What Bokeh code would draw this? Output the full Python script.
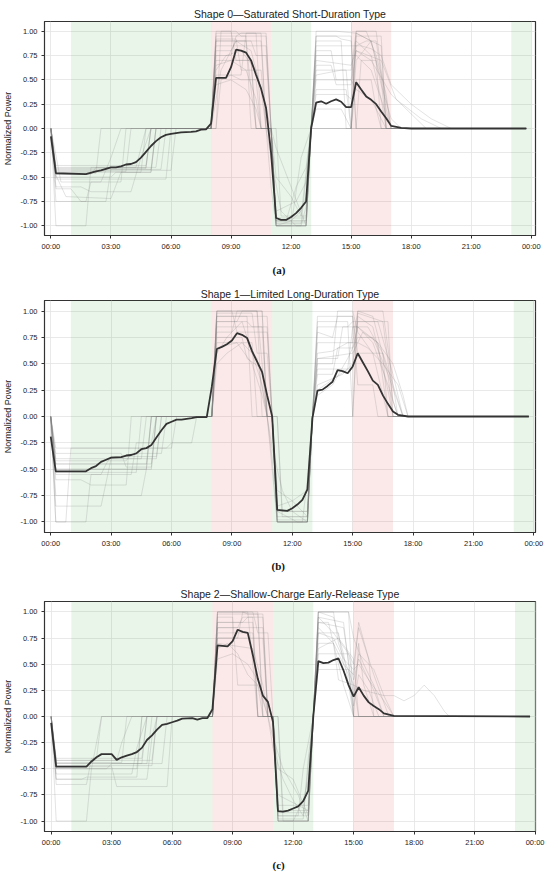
from bokeh.plotting import figure
from bokeh.layouts import column
from bokeh.models import FixedTicker, Title, Range1d, BoxAnnotation
from bokeh.embed import file_html
from bokeh.resources import INLINE

TITLES = ["Shape 0\u2014Saturated Short-Duration Type",
          "Shape 1\u2014Limited Long-Duration Type",
          "Shape 2\u2014Shallow-Charge Early-Release Type"]
CAPTIONS = ["(a)", "(b)", "(c)"]
X_TICKS = [0, 3, 6, 9, 12, 15, 18, 21, 24]
X_TICK_LABELS = ["00:00", "03:00", "06:00", "09:00", "12:00", "15:00", "18:00", "21:00", "00:00"]
Y_TICKS = [-1.0, -0.75, -0.5, -0.25, 0.0, 0.25, 0.5, 0.75, 1.0]
Y_TICK_LABELS = ["-1.00", "-0.75", "-0.50", "-0.25", "0.00", "0.25", "0.50", "0.75", "1.00"]
GREEN_SPANS = [(1, 8), (11, 13), (23, 24)]
RED_SPANS = [(8, 11), (15, 17)]

# ---- mean (cluster centre) curves: hours, normalized power ----
MEAN_A_T = [0, 0.25, 1.75, 2.25, 2.5, 3.0, 3.25, 3.5, 3.75, 4.0,
            4.25, 4.5, 4.75, 5.0, 5.25, 5.5, 5.75, 6.0, 6.5, 7.0,
            7.25, 7.5, 7.75, 8.0, 8.25, 8.75, 9.0, 9.25, 9.5, 9.75,
            10.0, 10.25, 10.5, 10.75, 11.0, 11.25, 11.5, 11.75, 12.0, 12.25,
            12.5, 12.75, 13.0, 13.25, 13.5, 13.75, 14.0, 14.25, 14.5, 14.75,
            15.0, 15.25, 15.5, 15.75, 16.0, 16.25, 16.5, 16.75, 17.0, 17.5,
            18.0, 23.75]
MEAN_A_V = [-0.08, -0.46, -0.47, -0.44, -0.43, -0.40, -0.40, -0.39, -0.37, -0.365,
            -0.345, -0.30, -0.24, -0.18, -0.13, -0.09, -0.065, -0.055, -0.04, -0.035,
            -0.03, -0.012, -0.008, 0.05, 0.52, 0.52, 0.63, 0.81, 0.80, 0.78,
            0.70, 0.55, 0.41, 0.21, -0.25, -0.92, -0.94, -0.94, -0.91, -0.87,
            -0.815, -0.75, 0.0, 0.265, 0.28, 0.255, 0.28, 0.30, 0.275, 0.22,
            0.22, 0.475, 0.40, 0.33, 0.295, 0.25, 0.175, 0.105, 0.027, 0.007,
            0.0, 0.0]

MEAN_B_T = [0, 0.25, 1.75, 2.0, 2.25, 2.5, 2.75, 3.0, 3.5, 3.75,
            4.0, 4.25, 4.5, 4.75, 5.0, 5.25, 5.5, 5.75, 6.0, 6.25,
            6.5, 7.0, 7.25, 7.75, 8.0, 8.25, 8.5, 8.75, 9.0, 9.25,
            9.5, 9.75, 10.0, 10.25, 10.5, 10.75, 11.0, 11.25, 11.5, 11.75,
            12.0, 12.25, 12.5, 12.75, 13.0, 13.25, 13.5, 13.75, 14.0, 14.25,
            14.5, 14.75, 15.0, 15.25, 15.5, 15.75, 16.0, 16.25, 16.5, 16.75,
            17.0, 17.25, 17.75, 23.75]
MEAN_B_V = [-0.19, -0.52, -0.52, -0.49, -0.47, -0.43, -0.41, -0.39, -0.385, -0.37,
            -0.365, -0.35, -0.31, -0.30, -0.27, -0.20, -0.13, -0.07, -0.05, -0.03,
            -0.03, -0.015, -0.006, -0.006, 0.28, 0.64, 0.66, 0.685, 0.72, 0.79,
            0.775, 0.745, 0.62, 0.52, 0.42, 0.20, 0.0, -0.885, -0.89, -0.895,
            -0.87, -0.835, -0.79, -0.69, -0.015, 0.245, 0.255, 0.29, 0.33, 0.44,
            0.43, 0.41, 0.475, 0.60, 0.515, 0.43, 0.34, 0.30, 0.20, 0.12,
            0.047, 0.016, 0.0, 0.0]

MEAN_C_T = [0, 0.25, 1.75, 2.0, 2.25, 2.5, 3.0, 3.25, 3.5, 3.75,
            4.0, 4.25, 4.5, 4.75, 5.0, 5.25, 5.5, 5.75, 6.0, 6.25,
            6.5, 7.0, 7.25, 7.5, 7.75, 8.0, 8.25, 8.75, 9.0, 9.25,
            9.5, 9.75, 10.0, 10.25, 10.5, 10.75, 11.0, 11.25, 11.5, 11.75,
            12.0, 12.25, 12.5, 12.75, 13.0, 13.25, 13.5, 13.75, 14.0, 14.25,
            14.5, 14.75, 15.0, 15.25, 15.5, 15.75, 16.0, 16.25, 16.5, 17.0,
            23.75]
MEAN_C_V = [-0.06, -0.48, -0.48, -0.43, -0.39, -0.36, -0.36, -0.415, -0.39, -0.375,
            -0.36, -0.34, -0.30, -0.225, -0.18, -0.125, -0.08, -0.07, -0.055, -0.04,
            -0.02, -0.015, -0.03, -0.015, -0.015, 0.07, 0.68, 0.67, 0.72, 0.83,
            0.81, 0.80, 0.59, 0.36, 0.20, 0.14, -0.05, -0.905, -0.91, -0.90,
            -0.88, -0.86, -0.81, -0.71, 0.0, 0.53, 0.51, 0.515, 0.54, 0.555,
            0.44, 0.30, 0.19, 0.28, 0.20, 0.135, 0.10, 0.07, 0.03, 0.006,
            0.0]

# ---- individual member curves (estimated), [hour, value] vertices ----
GRAY_A = [
    [[0,0],[0.25,-0.42],[5.0,-0.42],[5.25,0],[8.0,0],[8.25,0.9],[10.5,0.9],[10.75,0],[11.0,0],[11.25,-1.0],[12.75,-1.0],[13.0,0],[13.25,0.5],[15.0,0.5],[15.25,0.95],[16.5,0.95],[16.75,0],[23.75,0]],
    [[0,0],[0.25,-0.45],[4.5,-0.45],[4.75,0],[8.25,0],[8.5,1.0],[9.25,1.0],[9.5,0.95],[10.75,0.95],[11.0,0],[11.25,-0.98],[12.5,-0.98],[12.75,-0.5],[13.0,0],[13.25,0.9],[14.5,0.9],[14.75,0],[15.25,0],[15.5,0.7],[16.25,0.7],[16.5,0],[23.75,0]],
    [[0,0],[0.25,-0.75],[1.75,-0.75],[2.0,-0.55],[3.5,-0.55],[3.75,0],[8.0,0],[8.25,0.75],[9.0,0.75],[9.25,0.95],[9.75,0.95],[10.0,0],[11.25,0],[11.5,-0.9],[12.75,-0.9],[13.0,0],[15.0,0],[15.25,1.0],[16.25,1.0],[16.5,0.6],[17.0,0],[23.75,0]],
    [[0,0],[0.25,-1.0],[1.75,-1.0],[2.0,-0.4],[5.25,-0.4],[5.5,0],[8.0,0],[8.25,0.55],[9.5,0.55],[9.75,0.98],[10.5,0.98],[10.75,0],[11.0,-0.6],[11.25,-1.0],[12.0,-1.0],[12.5,-0.3],[13.0,0],[13.25,0.8],[14.0,0.8],[14.25,0.5],[15.0,0.5],[15.25,0.4],[16.0,0.3],[16.75,0],[23.75,0]],
    [[0,0],[0.25,-0.5],[3.0,-0.5],[3.25,-0.45],[5.0,-0.45],[5.25,0],[8.0,0],[8.25,0.85],[10.75,0.85],[11.0,0],[11.25,-0.95],[12.75,-0.95],[13.0,0],[13.25,0.95],[14.25,0.95],[14.5,0.92],[15.0,0.9],[15.25,0],[23.75,0]],
    [[0,0],[0.25,-0.6],[1.5,-0.6],[2.0,-0.65],[4.0,-0.65],[4.5,-0.3],[5.0,0],[8.0,0],[8.25,0.3],[8.5,0.6],[9.25,0.9],[10.0,0.8],[10.5,0.4],[10.75,0],[11.0,-0.3],[11.5,-0.85],[12.25,-1.0],[12.75,-1.0],[13.0,0],[13.25,0.2],[14.5,0.2],[15.0,0],[15.25,0.85],[15.75,0.9],[16.25,0.9],[16.75,0.2],[17.0,0],[23.75,0]],
    [[0,0],[0.25,-0.43],[6.0,-0.43],[6.25,0],[8.0,0],[8.25,1.0],[9.0,1.0],[9.25,0.7],[10.0,0.7],[10.25,0],[11.0,0],[11.25,-1.0],[12.75,-1.0],[13.0,0],[13.25,0.75],[15.25,0.75],[16.0,0.6],[16.5,0.3],[17.0,0],[23.75,0]],
    [[0,0],[0.5,-0.55],[2.5,-0.55],[3.0,-0.3],[3.5,0],[8.0,0],[8.25,0.65],[9.0,0.7],[9.75,0.6],[10.25,0.3],[10.5,0],[11.0,0],[11.25,-0.5],[12.0,-0.7],[12.5,-0.9],[13.0,0],[13.25,0.85],[15.5,0.85],[16.0,0.82],[16.5,0.75],[17.0,0.45],[18.0,0.25],[19.0,0.1],[20.0,0],[23.75,0]],
    [[0,0],[0.25,-0.47],[2.0,-0.47],[2.25,-0.4],[4.75,-0.4],[5.0,0],[8.0,0],[8.25,0.9],[9.75,0.9],[10.0,0.4],[10.25,0],[11.0,0],[11.25,-0.95],[11.75,-0.95],[12.25,-0.6],[12.75,-0.4],[13.0,0],[15.0,0],[15.25,0.98],[16.0,0.9],[16.5,0.5],[16.75,0],[23.75,0]],
    [[0,0],[0.25,-0.4],[4.25,-0.4],[4.5,-0.2],[4.75,0],[8.0,0],[8.25,0.8],[9.0,0.8],[9.25,0.9],[10.0,0.9],[10.25,0.75],[10.75,0.75],[11.0,0],[11.25,-1.0],[12.5,-1.0],[12.75,-0.8],[13.0,0],[13.25,0.6],[14.75,0.6],[15.0,0],[15.25,0.5],[16.0,0.5],[16.25,0.2],[16.5,0],[23.75,0]],
    [[0,0],[0.25,-0.48],[0.75,-0.7],[3.0,-0.72],[3.5,-0.45],[5.0,-0.45],[5.25,0],[8.25,0],[8.5,0.5],[9.0,0.55],[9.5,0.5],[10.25,0.5],[10.5,0],[11.0,0],[11.25,-0.2],[12.0,-0.6],[12.75,-1.0],[13.0,-0.05],[13.25,1.0],[14.25,1.0],[15.25,0.98],[16.0,0.9],[16.5,0.45],[17.0,0.1],[17.5,0],[23.75,0]],
    [[0,0],[0.25,-0.52],[5.75,-0.52],[6.0,0],[8.0,0],[8.25,0.95],[9.25,0.95],[9.5,0.98],[10.25,0.98],[10.5,0],[11.0,0],[11.25,-0.97],[12.75,-0.97],[13.0,0],[13.25,0.4],[14.75,0.4],[15.0,0],[15.25,0.7],[16.0,0.9],[16.5,0.85],[16.75,0],[23.75,0]],
    [[0,0],[0.25,-0.44],[3.75,-0.44],[4.0,0],[8.0,0],[8.25,0.7],[10.0,0.7],[10.25,0],[11.0,0],[11.25,-0.85],[12.25,-0.75],[12.75,-0.55],[13.0,0],[13.25,0.7],[15.0,0.65],[15.25,0.8],[16.5,0.7],[17.25,0.3],[18.5,0.1],[19.5,0],[23.75,0]],
    [[0,0],[0.25,-0.38],[4.75,-0.38],[5.0,0],[8.0,0],[8.25,0.6],[8.75,0.75],[9.5,0.8],[10.25,0.6],[10.75,0.2],[11.0,0],[11.25,-0.95],[12.75,-0.95],[13.0,0],[13.25,0.35],[14.75,0.35],[15.0,0.3],[15.25,0.9],[16.0,0.75],[16.5,0.3],[16.75,0],[23.75,0]],
    [[0,0],[0.25,-0.46],[2.25,-0.46],[2.5,0],[8.0,0],[8.25,0.98],[10.75,0.98],[11.0,0],[11.25,-1.0],[12.75,-1.0],[13.0,0],[13.25,0.95],[15.0,0.95],[15.25,0],[23.75,0]],
    [[0,0],[0.25,-0.62],[1.0,-0.62],[1.5,-0.75],[2.75,-0.75],[3.0,-0.42],[5.5,-0.42],[5.75,0],[8.0,0],[8.25,0.45],[9.0,0.5],[9.75,0.4],[10.25,0.2],[10.5,0],[11.0,0],[11.25,-1.0],[12.0,-0.95],[12.5,-0.85],[12.75,-0.7],[13.0,0],[13.25,0.55],[14.5,0.6],[15.0,0.6],[15.25,1.0],[15.75,1.0],[16.25,0.75],[16.75,0.35],[17.0,0],[23.75,0]],
    [[0,0],[0.25,-0.41],[4.75,-0.41],[5.0,0],[8.0,0],[8.25,0.92],[9.25,0.92],[9.5,0.6],[10.5,0.6],[10.75,0],[11.0,0],[11.25,-0.92],[12.75,-0.92],[13.0,0],[13.25,0.65],[14.0,0.65],[14.25,0.45],[15.0,0.45],[15.25,0.8],[16.0,0.7],[17.0,0.35],[18.0,0.15],[18.75,0],[23.75,0]],
]

GRAY_B = [
    [[0,0],[0.25,-0.5],[4.75,-0.5],[5.0,0],[8.0,0],[8.25,1.0],[10.5,1.0],[10.75,0],[11.0,0],[11.25,-1.0],[12.75,-1.0],[13.0,0],[13.25,0.7],[15.0,0.7],[15.25,1.0],[16.5,1.0],[17.0,0.3],[17.25,0],[23.75,0]],
    [[0,0],[0.25,-0.4],[5.25,-0.4],[5.5,0],[8.0,0],[8.25,0.9],[9.25,0.9],[9.5,1.0],[10.25,1.0],[10.5,0.5],[10.75,0],[11.0,-0.5],[11.25,-1.0],[12.5,-1.0],[12.75,-0.6],[13.0,0],[13.25,0.5],[14.0,0.5],[14.25,1.0],[15.0,1.0],[15.25,0.8],[16.0,0.6],[16.5,0.2],[16.75,0],[23.75,0]],
    [[0,0],[0.25,-1.0],[1.75,-1.0],[2.0,-0.55],[4.0,-0.55],[4.25,-0.25],[5.0,-0.25],[5.25,0],[8.0,0],[8.25,0.7],[10.0,0.7],[10.25,0],[11.0,0],[11.25,-0.95],[12.75,-0.95],[13.0,0],[13.25,0.3],[14.5,0.4],[15.0,0.5],[15.25,0.9],[16.25,0.9],[17.0,0.4],[17.5,0],[23.75,0]],
    [[0,0],[0.25,-0.3],[6.0,-0.3],[6.25,0],[8.0,0],[8.25,1.0],[9.0,1.0],[9.25,0.8],[10.75,0.8],[11.0,0],[11.25,-0.9],[12.25,-1.0],[12.75,-1.0],[13.0,0],[13.25,0.9],[14.75,0.9],[15.0,0],[15.25,0.95],[16.0,0.85],[16.75,0.25],[17.0,0],[23.75,0]],
    [[0,0],[0.25,-0.55],[2.5,-0.55],[2.75,-0.45],[4.75,-0.45],[5.0,0],[8.0,0],[8.25,0.6],[8.75,0.75],[9.5,0.9],[10.0,0.6],[10.5,0.3],[10.75,0],[11.0,-0.3],[11.5,-0.7],[12.0,-0.9],[12.75,-1.0],[13.0,0],[13.25,0.6],[14.0,0.62],[14.75,0.7],[15.25,0.7],[15.75,0.65],[16.5,0.5],[17.25,0.3],[17.75,0],[23.75,0]],
    [[0,0],[0.25,-0.85],[2.5,-0.85],[3.0,-0.4],[4.5,-0.4],[4.75,0],[8.0,0],[8.25,0.95],[9.75,0.95],[10.0,0],[11.0,0],[11.25,-1.0],[12.75,-1.0],[13.0,0],[15.0,0],[15.25,1.0],[16.0,0.95],[16.75,0.4],[17.0,0],[23.75,0]],
    [[0,0],[0.25,-0.42],[3.75,-0.42],[4.0,-0.35],[5.5,-0.35],[5.75,0],[8.0,0],[8.25,0.85],[10.5,0.85],[10.75,0],[11.0,0],[11.25,-0.85],[12.0,-0.8],[12.75,-0.7],[13.0,0],[13.25,0.8],[14.0,0.75],[14.25,0.95],[15.0,0.95],[15.25,0.6],[16.5,0.6],[16.75,0],[23.75,0]],
    [[0,0],[0.25,-0.6],[1.5,-0.6],[2.0,-0.65],[3.75,-0.65],[4.0,0],[8.0,0],[8.25,0.98],[10.0,0.98],[10.25,0.6],[10.75,0.6],[11.0,0],[11.25,-1.0],[12.75,-1.0],[13.0,0],[13.25,0.25],[14.75,0.45],[15.0,0.85],[15.75,0.85],[16.5,0.6],[17.25,0.15],[17.5,0],[23.75,0]],
    [[0,0],[0.25,-0.5],[5.0,-0.5],[5.25,0],[8.0,0],[8.25,0.8],[9.0,0.8],[9.25,1.0],[10.5,1.0],[10.75,0],[11.0,-0.4],[11.25,-1.0],[12.75,-1.0],[13.0,0],[13.25,0.4],[14.0,0.4],[14.25,0.65],[15.0,0.65],[15.25,0.85],[16.25,0.7],[16.75,0],[23.75,0]],
    [[0,0],[0.25,-0.75],[4.5,-0.75],[4.75,-0.5],[5.0,0],[8.0,0],[8.25,0.75],[9.5,0.75],[9.75,0.55],[10.5,0.45],[10.75,0],[11.25,0],[11.5,-0.9],[12.75,-0.9],[13.0,0],[13.25,0.95],[15.0,0.95],[15.25,0.3],[16.0,0.3],[16.25,0],[23.75,0]],
    [[0,0],[0.25,-0.45],[2.75,-0.45],[3.0,-0.38],[5.25,-0.38],[5.5,0],[8.0,0],[8.25,0.65],[9.25,0.7],[10.0,0.5],[10.5,0.2],[10.75,0],[11.0,0],[11.25,-0.7],[12.0,-0.8],[12.75,-0.95],[13.0,0],[13.25,0.55],[15.0,0.6],[15.5,0.8],[16.25,0.7],[17.0,0.5],[17.5,0.2],[17.75,0],[23.75,0]],
    [[0,0],[0.25,-0.45],[5.0,-0.45],[5.25,0],[8.0,0],[8.25,0.95],[10.75,0.95],[11.0,0],[11.25,-0.98],[12.75,-0.98],[13.0,0],[13.25,0.85],[14.75,0.85],[15.0,0.9],[16.75,0.9],[17.0,0],[23.75,0]],
    [[0,0],[0.25,-0.35],[3.5,-0.35],[3.75,-0.48],[5.0,-0.48],[5.25,0],[8.0,0],[8.25,0.5],[8.75,0.6],[9.5,0.7],[10.25,0.55],[10.75,0],[11.25,0],[11.5,-0.95],[12.75,-0.95],[13.0,0],[13.25,0.2],[14.0,0.3],[14.75,0.55],[15.25,0.75],[16.0,0.75],[16.75,0.4],[17.5,0],[23.75,0]],
    [[0,0],[0.25,-0.53],[4.25,-0.53],[4.5,0],[8.0,0],[8.25,0.9],[9.75,0.9],[10.0,0.85],[10.75,0.85],[11.0,0],[11.25,-0.9],[12.75,-0.9],[13.0,0],[13.25,0.55],[14.25,0.55],[14.5,0.85],[15.25,0.85],[16.0,0.7],[16.75,0.3],[17.25,0],[23.75,0]],
    [[0,0],[0.25,-1.0],[0.75,-1.0],[1.0,-0.3],[5.75,-0.3],[6.0,-0.25],[7.0,-0.25],[7.25,0],[8.0,0],[8.25,1.0],[10.25,1.0],[10.5,0],[11.0,0],[11.25,-1.0],[12.75,-1.0],[13.0,0],[13.25,0.45],[15.0,0.45],[15.25,0.98],[16.5,0.9],[17.0,0.15],[17.25,0],[23.75,0]],
]

GRAY_C = [
    [[0,0],[0.25,-0.45],[4.5,-0.45],[4.75,0],[8.0,0],[8.25,1.0],[9.5,1.0],[9.75,0.98],[10.25,0.98],[10.5,0],[11.0,0],[11.25,-1.0],[12.75,-1.0],[13.0,0],[13.25,1.0],[14.75,1.0],[15.0,0],[23.75,0]],
    [[0,0],[0.25,-0.42],[5.0,-0.42],[5.25,0],[8.0,0],[8.25,0.9],[10.0,0.9],[10.25,0],[11.0,0],[11.25,-0.98],[12.5,-0.98],[12.75,-0.4],[13.0,0],[13.25,0.8],[14.25,0.8],[14.5,0.5],[15.0,0.4],[15.25,0.9],[15.75,0.55],[16.0,0],[23.75,0]],
    [[0,0],[0.25,-1.0],[1.75,-1.0],[2.0,-0.5],[2.5,0],[8.0,0],[8.25,0.75],[9.25,0.75],[9.5,1.0],[10.0,1.0],[10.25,0.8],[10.75,0.8],[11.0,0],[11.25,-1.0],[12.75,-1.0],[13.0,0],[13.25,1.0],[14.0,0.95],[14.5,0.6],[15.0,0],[23.75,0]],
    [[0,0],[0.25,-0.48],[3.0,-0.48],[3.25,-0.67],[5.75,-0.67],[6.0,0],[8.0,0],[8.25,0.95],[9.0,0.95],[9.25,0.3],[10.25,0.3],[10.5,0],[11.0,0],[11.25,-0.95],[12.75,-0.95],[13.0,0],[13.25,0.9],[14.5,0.85],[15.0,0.2],[15.25,0.6],[16.0,0.45],[16.5,0.2],[17.0,0],[23.75,0]],
    [[0,0],[0.25,-0.6],[4.75,-0.6],[5.0,-0.2],[5.25,0],[8.0,0],[8.25,0.85],[10.5,0.85],[10.75,0],[11.0,-0.3],[11.5,-0.6],[12.0,-0.8],[12.5,-0.95],[13.0,0],[13.25,0.65],[14.25,0.75],[15.0,0.55],[15.25,0],[23.75,0]],
    [[0,0],[0.25,-0.4],[2.25,-0.4],[2.5,0],[8.0,0],[8.25,0.65],[8.75,0.7],[9.25,0.6],[9.75,0.4],[10.25,0.3],[10.75,0],[11.25,0],[11.5,-0.9],[12.75,-0.9],[13.0,0],[13.25,0.95],[14.0,0.8],[14.75,0.6],[15.0,0.5],[15.25,0.85],[16.0,0.4],[16.75,0],[23.75,0]],
    [[0,0],[0.25,-0.5],[4.25,-0.5],[4.5,0],[8.0,0],[8.25,1.0],[9.75,1.0],[10.0,0.5],[10.25,0],[11.0,0],[11.25,-1.0],[12.0,-1.0],[12.5,-0.8],[12.75,-0.6],[13.0,0],[13.25,0.7],[14.0,0.7],[14.25,0.35],[15.0,0.3],[15.5,0.25],[16.5,0.2],[17.0,0.2],[17.5,0.15],[18.0,0.2],[18.5,0.3],[19.0,0.2],[19.5,0.05],[19.75,0],[23.75,0]],
    [[0,0],[0.25,-0.55],[4.0,-0.55],[4.25,-0.3],[4.75,0],[8.0,0],[8.25,0.9],[9.5,0.9],[9.75,0.95],[10.5,0.95],[10.75,0],[11.0,0],[11.25,-0.92],[12.75,-0.92],[13.0,0],[13.25,0.9],[13.75,0.9],[14.5,0.3],[15.0,0],[15.25,0.7],[15.5,0.3],[16.0,0],[23.75,0]],
    [[0,0],[0.25,-0.45],[5.5,-0.45],[5.75,0],[8.0,0],[8.25,0.8],[10.0,0.8],[10.25,0],[11.25,0],[11.5,-1.0],[12.75,-1.0],[13.0,0],[13.25,0.45],[14.75,0.45],[15.0,0],[23.75,0]],
    [[0,0],[0.25,-0.65],[1.75,-0.65],[2.0,-0.4],[4.5,-0.4],[4.75,0],[8.0,0],[8.25,1.0],[10.25,1.0],[10.5,0],[11.0,0],[11.25,-0.5],[12.0,-0.6],[12.75,-0.95],[13.0,0],[13.25,1.0],[14.75,1.0],[15.0,0.75],[15.5,0.5],[16.0,0.3],[16.5,0],[23.75,0]],
    [[0,0],[0.25,-0.44],[3.5,-0.44],[3.75,0],[8.0,0],[8.25,0.7],[10.0,0.65],[10.5,0.3],[10.75,0],[11.0,0],[11.25,-0.75],[12.25,-0.85],[12.75,-0.9],[13.0,0],[13.25,0.85],[14.0,0.7],[14.75,0.4],[15.0,0.1],[15.25,0.4],[15.75,0.25],[16.25,0],[23.75,0]],
    [[0,0],[0.25,-0.5],[2.75,-0.5],[3.0,-0.45],[4.75,-0.45],[5.0,0],[8.0,0],[8.25,0.98],[10.5,0.98],[10.75,0],[11.0,0],[11.25,-1.0],[12.75,-1.0],[13.0,0],[13.25,0.95],[14.5,0.9],[14.75,0.5],[15.0,0],[23.75,0]],
    [[0,0],[0.25,-0.6],[1.5,-0.6],[1.75,-0.58],[4.25,-0.58],[4.5,0],[8.0,0],[8.25,0.55],[9.0,0.6],[9.75,0.5],[10.25,0.35],[10.75,0],[11.0,0],[11.25,-0.85],[12.75,-0.85],[13.0,0],[13.25,0.8],[14.0,0.75],[14.5,0.55],[15.0,0.45],[15.25,0.5],[15.75,0.35],[16.5,0.15],[17.0,0],[23.75,0]],
    [[0,0],[0.25,-0.42],[3.25,-0.42],[3.5,-0.25],[4.0,0],[8.0,0],[8.25,0.85],[9.25,0.85],[9.5,0.95],[10.0,0.95],[10.25,0],[11.0,0],[11.25,-0.95],[12.25,-0.95],[12.5,-0.5],[13.0,0],[13.25,1.0],[14.0,1.0],[14.25,0.7],[15.0,0.3],[15.25,0],[23.75,0]],
    [[0,0],[0.25,-0.47],[5.0,-0.47],[5.25,0],[8.0,0],[8.25,0.75],[10.5,0.75],[10.75,0],[11.0,-0.2],[11.5,-0.5],[12.25,-0.75],[12.75,-1.0],[13.0,0],[13.25,0.6],[14.75,0.6],[15.0,0.35],[15.25,0.55],[16.0,0.25],[16.5,0],[23.75,0]],
]

MEANS = [(MEAN_A_T, MEAN_A_V), (MEAN_B_T, MEAN_B_V), (MEAN_C_T, MEAN_C_V)]
GRAYS = [GRAY_A, GRAY_B, GRAY_C]
X_RANGES = [(-0.32, 24.21), (-0.31, 24.08), (-0.33, 24.02)]

FONT = "Liberation Sans"
# (height, border top, border bottom, border left, border right, title standoff, caption standoff)
LAYOUT = [(285, 21, 50, 41, 10, 4, 16),
          (296, 15, 49, 42, 15, 1, 15),
          (298, 20, 48, 41, 14, 4, 14)]


def make_panel(i):
    h, top, bottom, left, right, t_standoff, cap_standoff = LAYOUT[i]
    x0, x1 = X_RANGES[i]
    p = figure(width=550, height=h, output_backend="svg", toolbar_location=None,
               x_range=Range1d(x0, x1), y_range=Range1d(-1.1, 1.1),
               min_border_left=left, min_border_right=right,
               min_border_top=top, min_border_bottom=bottom,
               title=TITLES[i])
    p.title.text_font = FONT
    p.title.text_font_size = "10.5px"
    p.title.text_font_style = "normal"
    p.title.text_color = "#222222"
    p.title.align = "center"
    p.title.standoff = t_standoff

    p.background_fill_color = "white"
    p.border_fill_color = "white"
    p.outline_line_color = "#333333"
    p.outline_line_width = 1.2
    p.outline_line_alpha = 1.0

    for s, e in GREEN_SPANS:
        p.add_layout(BoxAnnotation(left=s, right=e, fill_color="#2ca02c", fill_alpha=0.1,
                                   line_color=None, level="underlay"))
    for s, e in RED_SPANS:
        p.add_layout(BoxAnnotation(left=s, right=e, fill_color="#d62728", fill_alpha=0.1,
                                   line_color=None, level="underlay"))

    gray = GRAYS[i]
    xs = [[pt[0] for pt in c] for c in gray]
    ys = [[pt[1] for pt in c] for c in gray]
    p.multi_line(xs, ys, line_color="#808080", line_alpha=0.28, line_width=0.8)

    mt, mv = MEANS[i]
    p.line(mt, mv, line_color="#333333", line_width=1.8)

    p.xaxis.ticker = FixedTicker(ticks=X_TICKS)
    p.xaxis.major_label_overrides = {t: l for t, l in zip(X_TICKS, X_TICK_LABELS)}
    p.yaxis.ticker = FixedTicker(ticks=Y_TICKS)
    p.yaxis.major_label_overrides = {t: l for t, l in zip(Y_TICKS, Y_TICK_LABELS)}
    for ax in (p.xaxis, p.yaxis):
        ax.major_label_text_font = FONT
        ax.major_label_text_font_size = "7.5px"
        ax.major_label_text_color = "#222222"
        ax.major_tick_out = 3
        ax.major_tick_in = 0
        ax.minor_tick_out = 0
        ax.minor_tick_in = 0
        ax.major_tick_line_color = "#333333"
        ax.axis_line_color = "#333333"
        ax.major_label_standoff = 3
    p.yaxis.major_label_standoff = 4
    p.yaxis.axis_label = "Normalized Power"
    p.yaxis.axis_label_text_font = FONT
    p.yaxis.axis_label_text_font_size = "9px"
    p.yaxis.axis_label_text_font_style = "normal"
    p.yaxis.axis_label_text_color = "#222222"
    p.yaxis.axis_label_standoff = 4

    p.xgrid.grid_line_color = "#e3e3e3"
    p.ygrid.grid_line_color = "#e3e3e3"
    p.xgrid.grid_line_width = 0.8
    p.ygrid.grid_line_width = 0.8

    cap = Title(text=CAPTIONS[i], align="left", text_font="Liberation Serif",
                text_font_style="bold", text_font_size="11px", text_color="#111111",
                offset=228 - (left - 41), standoff=cap_standoff)
    p.add_layout(cap, "below")
    return p


layout = column(*[make_panel(i) for i in range(3)], spacing=0)
open("out.html", "w").write(file_html(layout, INLINE))
